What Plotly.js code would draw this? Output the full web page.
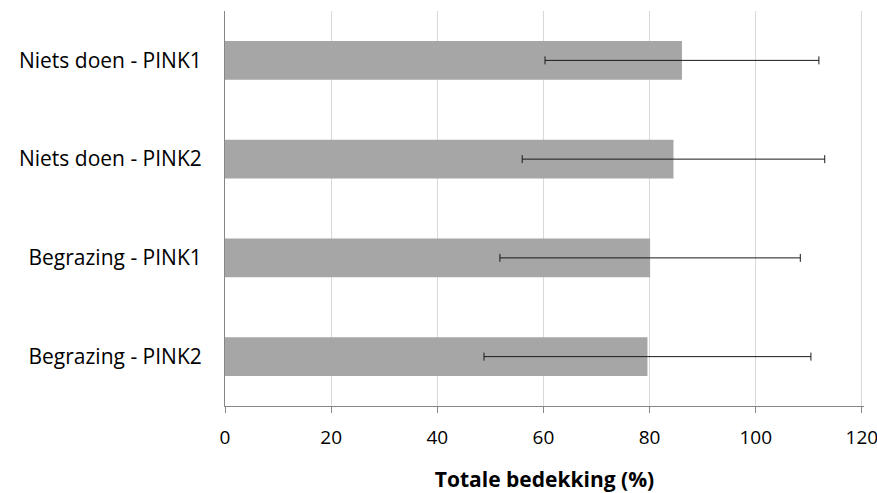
<!DOCTYPE html>
<html>
<head>
<meta charset="utf-8">
<script src="https://cdn.plot.ly/plotly-3.0.1.min.js"></script>
<style>html,body{margin:0;padding:0;background:#fff;}#chart{width:877px;height:493px;}</style>
</head>
<body>
<div id="chart"></div>
<script>
const categories = ["Niets doen - PINK1", "Niets doen - PINK2", "Begrazing - PINK1", "Begrazing - PINK2"];
const values = [86.1, 84.5, 80.1, 79.6];
const errors = [25.8, 28.5, 28.3, 30.8];
const xTicks = [0, 20, 40, 60, 80, 100, 120];

const trace = {
  type: "bar",
  orientation: "h",
  y: categories,
  x: values,
  marker: {color: "#a6a6a6"},
  error_x: {type: "data", array: errors, visible: true, color: "#1a1a1a", thickness: 1, width: 4},
  hoverinfo: "x+y"
};

const layout = {
  width: 877, height: 493,
  margin: {l: 225, r: 13, t: 11, b: 87},
  paper_bgcolor: "#ffffff", plot_bgcolor: "#ffffff",
  font: {family: "'Open Sans', sans-serif", size: 17, color: "#000000"},
  bargap: 0.61,
  showlegend: false,
  xaxis: {
    range: [0, 120.4], tickvals: xTicks, ticktext: xTicks.map(String),
    showgrid: true, gridcolor: "#d9d9d9", gridwidth: 1,
    showline: true, linecolor: "#868686", linewidth: 1,
    ticks: "outside", ticklen: 6, tickcolor: "#868686",
    zeroline: false,
    tickfont: {size: 19},
    ticklabelstandoff: 8,
    ticklabeloverflow: "allow",
    title: {text: "<b>Totale bedekking (%)</b>", font: {size: 21}, standoff: 26}
  },
  yaxis: {
    type: "category",
    categoryorder: "array", categoryarray: categories,
    autorange: "reversed",
    showline: true, linecolor: "#868686", linewidth: 1,
    showgrid: false, zeroline: false,
    ticks: "", tickfont: {size: 21},
    ticklabelstandoff: 18
  }
};

Plotly.newPlot("chart", [trace], layout, {displayModeBar: false, staticPlot: true});
</script>
</body>
</html>
